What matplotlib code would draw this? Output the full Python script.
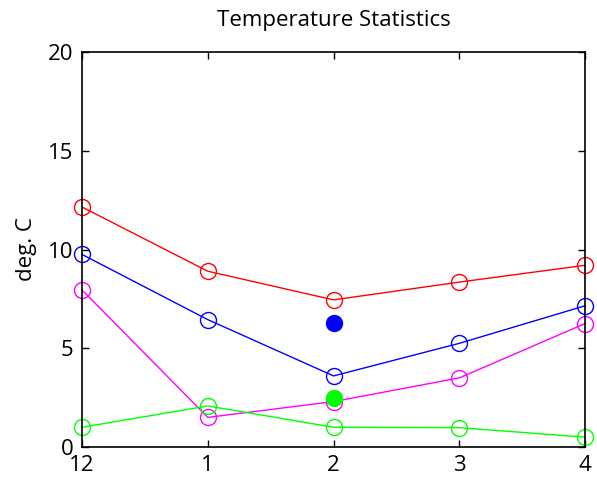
"""Temperature statistics chart, MATLAB style."""

import matplotlib

matplotlib.use("Agg")
import matplotlib.pyplot as plt

months = ["12", "1", "2", "3", "4"]
max_temp = [12.15, 8.9, 7.45, 8.35, 9.2]
mean_temp = [9.75, 6.45, 3.6, 5.25, 7.15]
min_mean = [7.95, 1.5, 2.3, 3.5, 6.25]
min_temp = [1.0, 2.08, 1.0, 0.98, 0.5]

extra_x = [2, 2]
extra_y = [6.28, 2.5]
extra_colors = ["#0000ff", "#00ff00"]

plt.rcParams["font.family"] = ["Open Sans", "DejaVu Sans"]

fig = plt.figure(figsize=(5.97, 4.84), dpi=100)
ax = fig.add_axes([0.1374, 0.0764, 0.8426, 0.8162])

x = list(range(len(months)))
for values, color in [
    (max_temp, "#ff0000"),
    (mean_temp, "#0000ff"),
    (min_mean, "#ff00ff"),
    (min_temp, "#00ff00"),
]:
    ax.plot(x, values, color=color, lw=1, marker="o", ms=11.5,
            mfc="none", mec=color, mew=1, clip_on=False)

for xi, yi, c in zip(extra_x, extra_y, extra_colors):
    ax.plot(xi, yi, "o", color=c, ms=11.5)

ax.set_xlim(0, 4)
ax.set_ylim(0, 20)
ax.set_xticks(x)
ax.set_xticklabels(months)
ax.set_yticks([0, 5, 10, 15, 20])
ax.tick_params(direction="in", labelsize=16, length=5, top=True, right=True,
               labeltop=False, labelright=False, width=1)
ax.tick_params(axis="y", pad=6)
ax.tick_params(axis="x", pad=6)
for spine in ax.spines.values():
    spine.set_linewidth(1.2)
ax.set_ylabel("deg. C", fontsize=16, labelpad=8)
ax.set_title("Temperature Statistics", fontsize=16, pad=19)

fig.savefig("out.png", dpi=100)
